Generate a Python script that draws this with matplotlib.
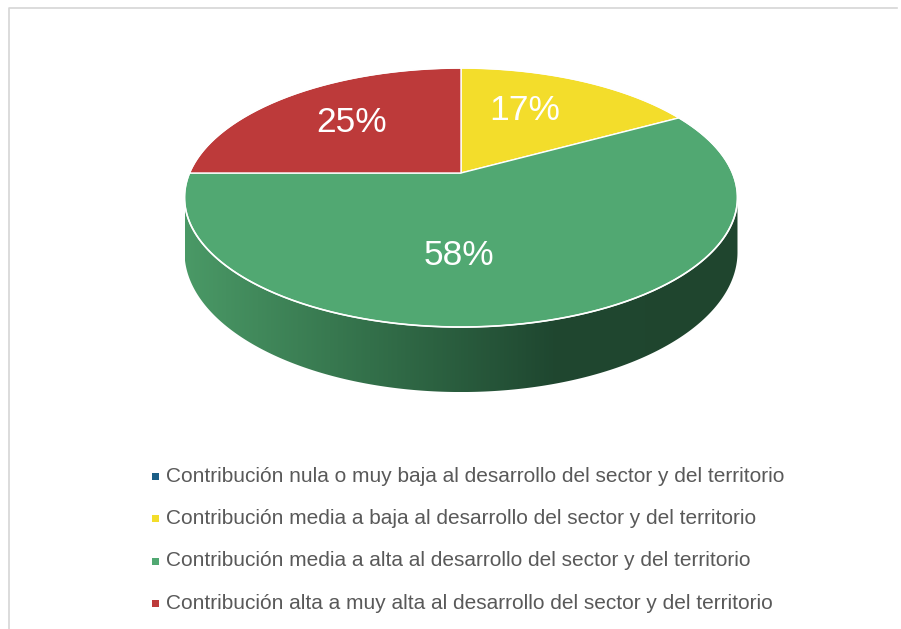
import numpy as np
import matplotlib.pyplot as plt
from matplotlib.patches import Polygon, Rectangle
from matplotlib.colors import LinearSegmentedColormap

plt.rcParams['font.family'] = ['Liberation Sans', 'DejaVu Sans']

categories = [
    'Contribución nula o muy baja al desarrollo del sector y del territorio',
    'Contribución media a baja al desarrollo del sector y del territorio',
    'Contribución media a alta al desarrollo del sector y del territorio',
    'Contribución alta a muy alta al desarrollo del sector y del territorio',
]
shares = [0, 17, 58, 25]
colors = ['#1b5e86', '#f3dd2b', '#51a872', '#bd3a3a']

# pie geometry (pixels) and perspective strength
cx, cy = 461, 173
rx, ry = 271.5, 124.9
depth = 5.286
height = 52.7


def project(theta, drop=0.0):
    # theta measured clockwise from 12 o'clock on the flat disc
    u = np.sin(theta)
    v = -np.cos(theta)
    s = depth / (depth - v)
    return cx + rx * u * s, cy + ry * v * s + drop * s


def hull(pts):
    pts = sorted(map(tuple, pts))
    def cross(o, a, b):
        return (a[0] - o[0]) * (b[1] - o[1]) - (a[1] - o[1]) * (b[0] - o[0])
    lower, upper = [], []
    for p in pts:
        while len(lower) >= 2 and cross(lower[-2], lower[-1], p) <= 0:
            lower.pop()
        lower.append(p)
    for p in reversed(pts):
        while len(upper) >= 2 and cross(upper[-2], upper[-1], p) <= 0:
            upper.pop()
        upper.append(p)
    return np.array(lower[:-1] + upper[:-1])


fig = plt.figure(figsize=(9.01, 6.29), dpi=100)
ax = fig.add_axes([0, 0, 1, 1])
ax.set_xlim(0, 901)
ax.set_ylim(629, 0)
ax.axis('off')

# chart frame
ax.plot([9, 9, 897], [629, 7.5, 7.5], color='#d6d6d6', lw=1.2)

# side wall with a left-to-right shading
t = np.linspace(0, 2 * np.pi, 720)
top = np.column_stack(project(t))
bottom = np.column_stack(project(t, height))
body = hull(np.vstack([top, bottom]))
wall = Polygon(body, closed=True, facecolor='none', edgecolor='none')
ax.add_patch(wall)
shade = LinearSegmentedColormap.from_list('wall', ['#4a9966', '#33704a', '#1f4730', '#20452e'])
grad = np.linspace(0, 1, 256).reshape(1, -1)
img = ax.imshow(grad, cmap=shade, extent=[body[:, 0].min(), body[:, 0].max(), body[:, 1].max(), body[:, 1].min()],
                aspect='auto', zorder=1)
img.set_clip_path(wall)

# top face slices
start = 0.0
for share, col in zip(shares, colors):
    if share == 0:
        continue
    a0 = 2 * np.pi * start / 100
    a1 = 2 * np.pi * (start + share) / 100
    tt = np.linspace(a0, a1, 200)
    xs, ys = project(tt)
    verts = np.column_stack([np.r_[cx, xs], np.r_[cy, ys]])
    ax.add_patch(Polygon(verts, closed=True, facecolor=col, edgecolor='white', lw=1.0, zorder=2))
    start += share

ax.plot(top[:, 0], top[:, 1], color='white', lw=1.2, zorder=3)

# percentage labels
label_pos = {17: (525, 107), 58: (459, 252), 25: (352, 119)}
for share in shares:
    if share in label_pos:
        x, y = label_pos[share]
        ax.text(x, y, f'{share}%', color='white', fontsize=25.5, ha='center', va='center_baseline', zorder=4)

# legend
for i, (name, col) in enumerate(zip(categories, colors)):
    y = 476 + i * 42.5
    ax.add_patch(Rectangle((152, y - 3.5), 7, 7, facecolor=col, edgecolor='none'))
    ax.text(166, y, name, color='#595959', fontsize=15, ha='left', va='center')

fig.savefig('out.png', dpi=100)
